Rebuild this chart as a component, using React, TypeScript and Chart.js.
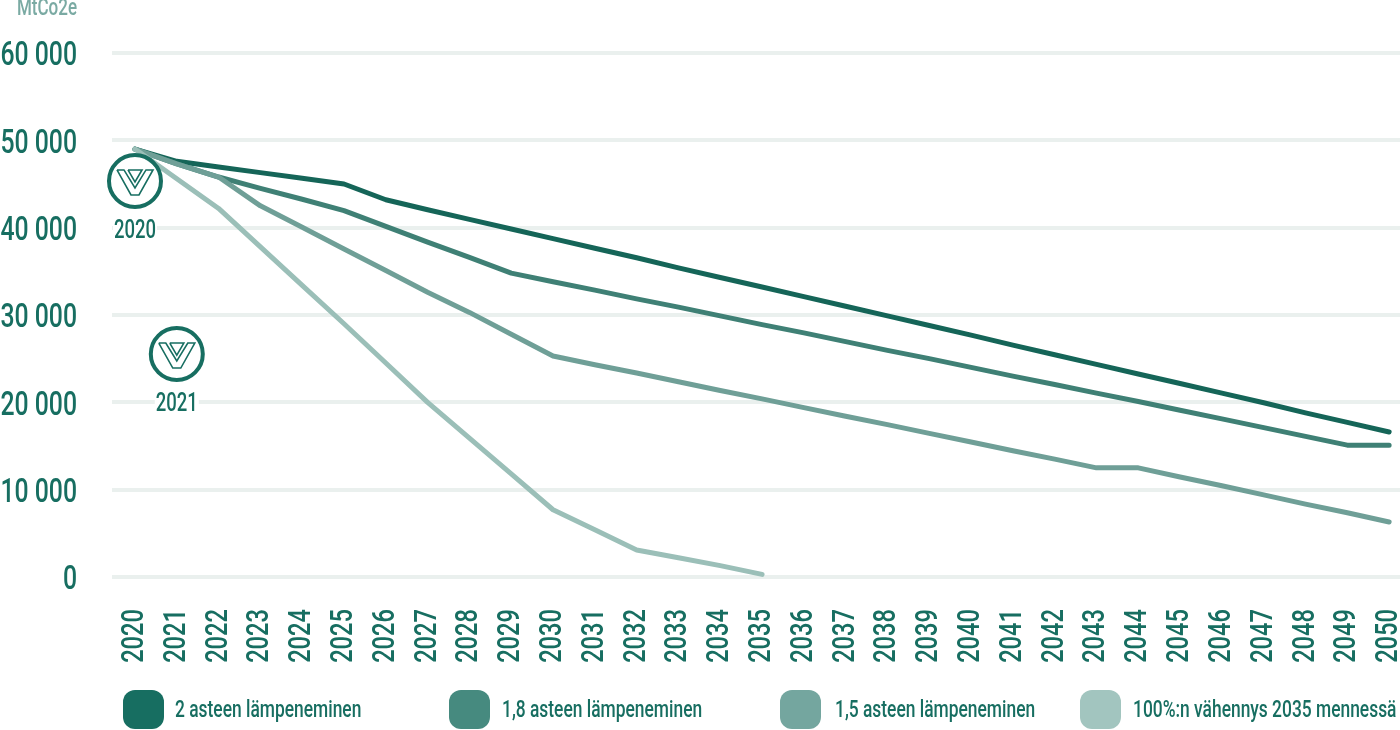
import React, { useEffect, useRef } from "react";
import { Chart, registerables } from "chart.js";

Chart.register(...registerables);

const years = [2020,2021,2022,2023,2024,2025,2026,2027,2028,2029,2030,2031,2032,2033,2034,2035,2036,2037,2038,2039,2040,2041,2042,2043,2044,2045,2046,2047,2048,2049,2050];
const yTicks = [0, 10000, 20000, 30000, 40000, 50000, 60000];
const twoDegree = [49000,47600,46950,46300,45650,45000,43200,42050,40950,39850,38750,37650,36550,35400,34300,33200,32100,31000,29900,28800,27700,26550,25450,24350,23250,22150,21050,19950,18800,17700,16600];
const oneEightDegree = [49000,47300,45800,44500,43250,41950,40150,38350,36600,34800,33800,32850,31850,30900,29900,28900,27950,26950,25950,25000,24000,23000,22050,21050,20100,19100,18100,17100,16100,15100,15100];
const oneFiveDegree = [49000,47300,45800,42500,40050,37550,35100,32600,30300,27800,25300,24300,23350,22350,21350,20400,19400,18400,17450,16450,15450,14450,13500,12500,12500,11450,10450,9400,8350,7350,6300];
const fullCut: (number | null)[] = [49000,45600,42200,37800,33400,29000,24500,20000,15900,11800,7700,5400,3100,2200,1300,300,null,null,null,null,null,null,null,null,null,null,null,null,null,null,null];
const seriesNames = ["2 asteen lämpeneminen","1,8 asteen lämpeneminen","1,5 asteen lämpeneminen","100%:n vähennys 2035 mennessä"];
const lineColors = ["#156558","#3f8075","#6f9f97","#9bbfb8"];
const legendColors = ["#176e61","#468a7f","#74a69f","#a2c5bf"];
const legendBoxLeft = [123, 449, 780, 1080];
const legendTextLeft = [175, 502, 835, 1133];
const logoYears = [2020, 2021];
const logoValues = [45350, 25530];
const logoLabels = ["2020", "2021"];
const unitLabel = "MtCo2e";
const FONT = 'Roboto, "Liberation Sans", sans-serif';
const GREEN = "#176e61";
const NARROW = 0.74;

function condense(ctx: any) {
  const orig = ctx.fillText.bind(ctx);
  ctx.fillText = (t: string, x: number, y: number) => {
    ctx.save();
    ctx.translate(x, y);
    ctx.scale(NARROW, 1);
    orig(t, 0, 0);
    ctx.restore();
  };
}

const logoPlugin = {
  id: "logos",
  afterDatasetsDraw(chart: any) {
    const { ctx, scales } = chart;
    ctx.save();
    ctx.fillStyle = "#7aaaa3";
    ctx.font = `500 23px ${FONT}`;
    ctx.textAlign = "right";
    ctx.textBaseline = "middle";
    ctx.fillText(unitLabel, 77, 9);
    logoYears.forEach((yr, i) => {
      const cx = scales.x.getPixelForValue(yr);
      const cy = scales.y.getPixelForValue(logoValues[i]);
      ctx.strokeStyle = GREEN;
      ctx.lineWidth = 4;
      ctx.beginPath();
      ctx.arc(cx, cy, 26, 0, Math.PI * 2);
      ctx.stroke();
      ctx.lineWidth = 1.6;
      ctx.lineJoin = "miter";
      [
        [-18, -11, -4, 14, 4, 14, 18, -11, 11, -11, 0, 7, -11, -11, -18, -11],
        [-7, -11, 0, 1, 7, -11, -7, -11],
      ].forEach((p) => {
        ctx.beginPath();
        ctx.moveTo(cx + p[0], cy + p[1]);
        for (let k = 2; k < p.length; k += 2) ctx.lineTo(cx + p[k], cy + p[k + 1]);
        ctx.stroke();
      });
      ctx.fillStyle = "#ffffff";
      ctx.fillRect(cx - 22, cy + 39, 44, 20);
      ctx.fillStyle = GREEN;
      ctx.font = `500 25px ${FONT}`;
      ctx.textAlign = "center";
      ctx.fillText(logoLabels[i], cx, cy + 51);
    });
    ctx.restore();
  },
};

export default function App() {
  const ref = useRef<HTMLCanvasElement>(null);
  useEffect(() => {
    document.body.style.margin = "0";
    condense(ref.current!.getContext("2d"));
    const sets = [twoDegree, oneEightDegree, oneFiveDegree, fullCut];
    const chart = new Chart(ref.current!, {
      type: "line",
      data: {
        datasets: sets.map((vals, i) => ({
          label: seriesNames[i],
          data: years.map((y, j) => ({ x: y, y: vals[j] })),
          borderColor: lineColors[i],
          backgroundColor: legendColors[i],
          borderWidth: 5,
          pointRadius: 0,
          tension: 0,
          spanGaps: false,
          borderCapStyle: "round",
          borderJoinStyle: "round",
          order: 3 - i,
        })) as any,
      },
      options: {
        animation: false,
        responsive: false,
        maintainAspectRatio: false,
        layout: { padding: { left: 0, right: 0, top: 53, bottom: 0 } },
        plugins: { legend: { display: false }, tooltip: { enabled: false } },
        scales: {
          x: {
            type: "linear",
            min: 2019.45,
            max: 2050.26,
            afterBuildTicks: (ax: any) => { ax.ticks = years.map((v) => ({ value: v })); },
            afterFit: (ax: any) => { ax.height = 153; ax.paddingLeft = 0; ax.paddingRight = 0; },
            grid: { display: false },
            border: { display: false },
            ticks: {
              autoSkip: false,
              maxRotation: 90,
              minRotation: 90,
              color: GREEN,
              padding: 24,
              labelOffset: 0,
              font: { family: FONT, size: 32, weight: "500" },
              callback: (v: any) => String(v),
            },
          },
          y: {
            type: "linear",
            min: 0,
            max: 60000,
            afterBuildTicks: (ax: any) => { ax.ticks = yTicks.map((v) => ({ value: v })); },
            afterFit: (ax: any) => { ax.width = 112; ax.paddingTop = 0; ax.paddingBottom = 0; },
            grid: { color: "#eaf0ee", lineWidth: 4, drawTicks: false },
            border: { display: false },
            ticks: {
              color: GREEN,
              padding: 35,
              labelOffset: 4,
              font: { family: FONT, size: 33.5, weight: "500" },
              callback: (v: any) => String(v).replace(/(\d)(\d{3})$/, "$1 $2"),
            },
          },
        },
      },
      plugins: [logoPlugin as any],
    });
    return () => chart.destroy();
  }, []);
  return (
    <div style={{ position: "relative", width: 1400, height: 730, overflow: "hidden" }}>
      <canvas ref={ref} width={1400} height={730} style={{ display: "block", width: 1400, height: 730 }} />
      {seriesNames.map((name, i) => (
        <React.Fragment key={name}>
          <div style={{ position: "absolute", left: legendBoxLeft[i], top: 690, width: 41, height: 39, borderRadius: 12, background: legendColors[i] }} />
          <div style={{ position: "absolute", left: legendTextLeft[i], top: 694, fontFamily: FONT, fontWeight: 500, fontSize: 24, lineHeight: "30px", color: GREEN, whiteSpace: "nowrap", transform: "scaleX(0.725)", transformOrigin: "left center" }}>{name}</div>
        </React.Fragment>
      ))}
    </div>
  );
}
